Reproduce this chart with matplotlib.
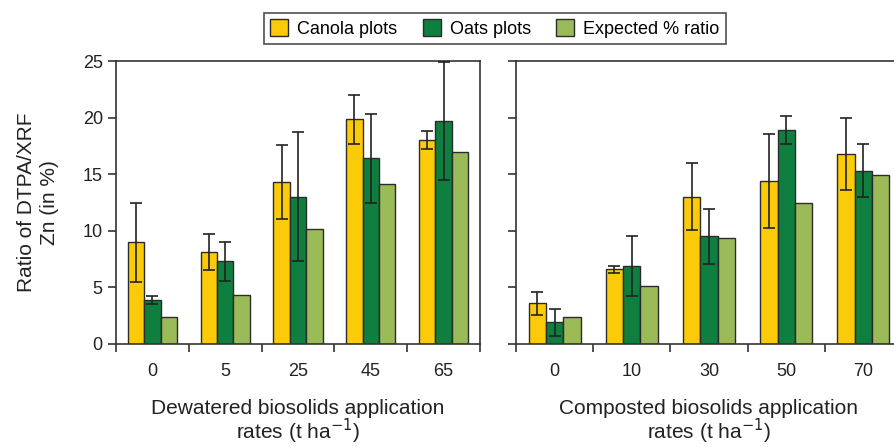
import matplotlib
matplotlib.use("Agg")
import matplotlib.pyplot as plt
import matplotlib.patches as patches
import numpy as np

plt.rcParams['font.family'] = ['Liberation Sans', 'DejaVu Sans']

# 数据
series = ['Canola plots', 'Oats plots', 'Expected % ratio']
colors = ['#FBCB0A', '#0E7F3E', '#9BBB59']

dew_rates = ['0', '5', '25', '45', '65']
dew_canola = [9.0, 8.1, 14.3, 19.85, 18.0]
dew_canola_err = [3.5, 1.6, 3.3, 2.15, 0.8]
dew_oats = [3.9, 7.3, 13.0, 16.4, 19.7]
dew_oats_err = [0.35, 1.75, 5.7, 3.95, 5.25]
dew_expected = [2.4, 4.35, 10.15, 14.1, 17.0]

comp_rates = ['0', '10', '30', '50', '70']
comp_canola = [3.6, 6.6, 13.0, 14.4, 16.8]
comp_canola_err = [1.03, 0.3, 2.95, 4.15, 3.2]
comp_oats = [1.9, 6.85, 9.5, 18.9, 15.3]
comp_oats_err = [1.22, 2.65, 2.4, 1.2, 2.35]
comp_expected = [2.4, 5.15, 9.4, 12.5, 14.9]

W, H = 895, 447
fig = plt.figure(figsize=(W / 100, H / 100), dpi=100)
ax1 = fig.add_axes([116 / W, 1 - 344 / H, (480 - 116) / W, (344 - 61) / H])
ax2 = fig.add_axes([516 / W, 1 - 344 / H, (902 - 516) / W, (344 - 61) / H])


def draw_panel(ax, rates, canola, canola_err, oats, oats_err, expected, xlabel, show_ylabels):
    x = np.arange(len(rates))
    bw = 0.225
    vals = [canola, oats, expected]
    errs = [canola_err, oats_err, None]
    for i in range(3):
        ax.bar(x + (i - 1) * bw, vals[i], width=bw, color=colors[i],
               edgecolor='#2b2b2b', linewidth=1.0, zorder=2)
        if errs[i] is not None:
            ax.errorbar(x + (i - 1) * bw, vals[i], yerr=errs[i], fmt='none',
                        ecolor='#222222', elinewidth=1.2, capsize=4.5, capthick=1.2, zorder=3)
    ax.set_xlim(-0.5, len(rates) - 0.5)
    ax.set_ylim(0, 25)
    ax.set_yticks([0, 5, 10, 15, 20, 25])
    # 分隔刻度在组之间，标签在组中心
    ax.set_xticks(np.arange(len(rates) + 1) - 0.5)
    ax.set_xticklabels([])
    ax.set_xticks(x, minor=True)
    ax.set_xticklabels(rates, minor=True)
    ax.tick_params(axis='x', which='minor', length=0, pad=14, labelsize=13, colors='#222222')
    ax.tick_params(axis='x', which='major', direction='out', length=6, width=1.2, color='#333333')
    ax.tick_params(axis='y', direction='out', length=6, width=1.2, color='#333333',
                   labelsize=13, labelcolor='#222222', labelleft=show_ylabels)
    for s in ax.spines.values():
        s.set_linewidth(1.2)
        s.set_color('#333333')
    ax.set_xlabel(xlabel, fontsize=15, color='#222222', labelpad=13, linespacing=0.95)


draw_panel(ax1, dew_rates, dew_canola, dew_canola_err, dew_oats, dew_oats_err, dew_expected,
           'Dewatered biosolids application\nrates (t ha$^{-1}$)', True)
draw_panel(ax2, comp_rates, comp_canola, comp_canola_err, comp_oats, comp_oats_err, comp_expected,
           'Composted biosolids application\nrates (t ha$^{-1}$)', False)

ax1.set_ylabel('Ratio of DTPA/XRF\nZn (in %)', fontsize=15, color='#222222', labelpad=17,
               linespacing=1.3)

handles = [patches.Patch(facecolor=c, edgecolor='#2b2b2b', linewidth=1.0) for c in colors]
leg = fig.legend(handles, series, loc='upper center', bbox_to_anchor=(495 / W, 1 - 4 / H),
                 ncol=3, fontsize=13, frameon=True, fancybox=False, edgecolor='#222222',
                 handlelength=1.0, handleheight=1.0, handletextpad=0.5, columnspacing=1.4,
                 borderpad=0.35)
leg.get_frame().set_linewidth(1.2)

fig.savefig('out.png', dpi=100)
